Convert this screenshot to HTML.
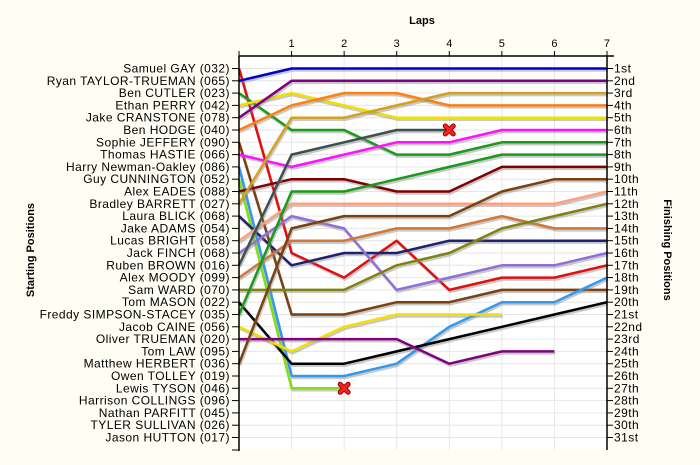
<!DOCTYPE html>
<html><head><meta charset="utf-8"><style>
html,body{margin:0;padding:0;background:#fffef4;}
svg{display:block;font-family:"Liberation Sans",sans-serif;}
</style></head><body>
<svg id="chart" width="700" height="465" viewBox="0 0 700 465" xmlns="http://www.w3.org/2000/svg">
<rect x="0" y="0" width="700" height="465" fill="#fffef4"/>
<rect x="239" y="56" width="368" height="394" fill="#ffffff"/>
<g id="grid"></g>
<g id="series"></g>
<g id="axes"></g>
<text x="422" y="24" text-anchor="middle" font-size="11" font-weight="bold">Laps</text>
<text transform="translate(34,250) rotate(-90)" text-anchor="middle" font-size="11" font-weight="bold">Starting Positions</text>
<text transform="translate(664,250) rotate(90)" text-anchor="middle" font-size="11" font-weight="bold">Finishing Positions</text>
</svg>
<script>
const drivers = ["Samuel GAY (032)","Ryan TAYLOR-TRUEMAN (065)","Ben CUTLER (023)","Ethan PERRY (042)","Jake CRANSTONE (078)","Ben HODGE (040)","Sophie JEFFERY (090)","Thomas HASTIE (066)","Harry Newman-Oakley (086)","Guy CUNNINGTON (052)","Alex EADES (088)","Bradley BARRETT (027)","Laura BLICK (068)","Jake ADAMS (054)","Lucas BRIGHT (058)","Jack FINCH (068)","Ruben BROWN (016)","Alex MOODY (099)","Sam WARD (070)","Tom MASON (022)","Freddy SIMPSON-STACEY (035)","Jacob CAINE (056)","Oliver TRUEMAN (020)","Tom LAW (095)","Matthew HERBERT (036)","Owen TOLLEY (019)","Lewis TYSON (046)","Harrison COLLINGS (096)","Nathan PARFITT (045)","TYLER SULLIVAN (026)","Jason HUTTON (017)"];
const finishLabels = ["1st","2nd","3rd","4th","5th","6th","7th","8th","9th","10th","11th","12th","13th","14th","15th","16th","17th","18th","19th","20th","21st","22nd","23rd","24th","25th","26th","27th","28th","29th","30th","31st"];
const lapLabels = [1,2,3,4,5,6,7];
const posRed = [1,16,18,15,19,18,18,17];
const posBlue = [2,1,1,1,1,1,1,1];
const posGreen = [3,6,6,8,8,7,7,7];
const posYellow = [4,3,4,5,5,5,5,5];
const posPurple = [5,2,2,2,2,2,2,2];
const posOrange = [6,4,3,3,4,4,4,4];
const posBrown2 = [7,21,21,20,20,19,19,19];
const posMagenta = [8,9,8,7,7,6,6,6];
const posLightBlue = [9,26,26,25,22,20,20,18];
const posLime = [10,27,27];
const posDarkRed = [11,10,10,11,11,9,9,9];
const posTan = [12,5,5,4,3,3,3,3];
const posNavy = [13,17,16,16,15,15,15,15];
const posSalmon = [15,12,12,12,12,12,12,11];
const posLavender = [16,13,14,19,18,17,17,16];
const posSlate = [17,8,7,6,6];
const posPeru = [18,15,15,14,14,13,14,14];
const posOlive = [19,19,19,17,16,14,13,12];
const posBlack = [20,25,25,24,23,22,21,20];
const posGreen2 = [21,11,11,10,9,8,8,8];
const posYellow2 = [22,24,22,21,21,21];
const posViolet = [23,23,23,23,25,24,24];
const posBrown3 = [25,14,13,13,13,11,10,10];

const seriesList = [
 {n:"samuel-gay-line",c:"#e01010",d:posRed},
 {n:"ryan-taylor-trueman-line",c:"#0000d0",d:posBlue},
 {n:"ben-cutler-line",c:"#1a9a1a",d:posGreen},
 {n:"ethan-perry-line",c:"#f2e000",d:posYellow},
 {n:"jake-cranstone-line",c:"#800080",d:posPurple},
 {n:"ben-hodge-line",c:"#ff8010",d:posOrange},
 {n:"sophie-jeffery-line",c:"#7a4010",d:posBrown2},
 {n:"thomas-hastie-line",c:"#ff10ff",d:posMagenta},
 {n:"harry-newman-oakley-line",c:"#3399ee",d:posLightBlue},
 {n:"guy-cunnington-line",c:"#80e010",d:posLime,x:true},
 {n:"alex-eades-line",c:"#800000",d:posDarkRed},
 {n:"bradley-barrett-line",c:"#d4a020",d:posTan},
 {n:"laura-blick-line",c:"#202070",d:posNavy},
 {n:"lucas-bright-line",c:"#ffa080",d:posSalmon},
 {n:"jack-finch-line",c:"#9070d8",d:posLavender},
 {n:"ruben-brown-line",c:"#3c5050",d:posSlate,x:true},
 {n:"alex-moody-line",c:"#d07838",d:posPeru},
 {n:"sam-ward-line",c:"#808010",d:posOlive},
 {n:"tom-mason-line",c:"#000000",d:posBlack},
 {n:"freddy-simpson-stacey-line",c:"#1a9a1a",d:posGreen2},
 {n:"jacob-caine-line",c:"#f2e000",d:posYellow2},
 {n:"oliver-trueman-line",c:"#800080",d:posViolet},
 {n:"matthew-herbert-line",c:"#7a4010",d:posBrown3}
];

const NS="http://www.w3.org/2000/svg";
const X0=239, LAPW=52.57, Y0=68.5, ROWH=12.3, TOP=56, BOT=450, RIGHT=607;
function xs(l){return X0+l*LAPW;}
function ys(p){return Y0+(p-1)*ROWH;}
function mk(tag,attrs,parent){const e=document.createElementNS(NS,tag);for(const k in attrs)e.setAttribute(k,attrs[k]);parent.appendChild(e);return e;}

const grid=document.getElementById('grid');
for(let i=0;i<drivers.length;i++){
  const g=mk('line',{x1:X0,x2:RIGHT,y1:ys(i+1),y2:ys(i+1),stroke:'#e6e6e6','stroke-width':1},grid);
  
  
}
for(let i=0;i<lapLabels.length;i++){
  const g=mk('line',{x1:xs(lapLabels[i]),x2:xs(lapLabels[i]),y1:TOP,y2:BOT,stroke:'#e6e6e6','stroke-width':1},grid);
  
  
}

const sg=document.getElementById('series');
seriesList.forEach(s=>{
  const pts=s.d.map((p,i)=>xs(i).toFixed(1)+','+ys(p).toFixed(1)).join(' ');
  const sh=mk('polyline',{points:pts,fill:'none',stroke:'#888','stroke-opacity':0.45,'stroke-width':2.5,transform:'translate(1,2)'},sg);
  
  
  const pl=mk('polyline',{points:pts,fill:'none',stroke:s.c,'stroke-width':2.5,'stroke-linejoin':'round'},sg);
  
  
  if(s.x){
    const li=s.d.length-1, cx=xs(li), cy=ys(s.d[li]);
    const gx=mk('g',{},sg);
    
    
    const d='M'+(cx-4)+','+(cy-4)+'L'+(cx+4)+','+(cy+4)+'M'+(cx+4)+','+(cy-4)+'L'+(cx-4)+','+(cy+4);
    mk('path',{d:d,stroke:'#900','stroke-width':5,'stroke-linecap':'round'},gx);
    mk('path',{d:d,stroke:'#ff2020','stroke-width':3,'stroke-linecap':'round'},gx);
  }
});

const ax=document.getElementById('axes');
let e;
e=mk('line',{x1:X0,x2:X0,y1:TOP,y2:BOT+1,stroke:'#000','stroke-width':1.5},ax);


e=mk('line',{x1:RIGHT,x2:RIGHT,y1:TOP,y2:BOT,stroke:'#000','stroke-width':1.5},ax);


e=mk('line',{x1:X0,x2:614,y1:TOP,y2:TOP,stroke:'#000','stroke-width':1.5},ax);


e=mk('line',{x1:X0-7,x2:X0,y1:BOT,y2:BOT,stroke:'#000','stroke-width':1},ax);


e=mk('line',{x1:X0,x2:X0,y1:TOP-5,y2:TOP,stroke:'#000','stroke-width':1},ax);


for(let i=0;i<lapLabels.length;i++){
  const x=xs(lapLabels[i]);
  e=mk('line',{x1:x,x2:x,y1:TOP-5,y2:TOP,stroke:'#000','stroke-width':1},ax);
  
  
  e=mk('text',{x:x,y:TOP-9,'text-anchor':'middle','font-size':11},ax);
  e.textContent=lapLabels[i];
  
  
}
for(let i=0;i<drivers.length;i++){
  const y=ys(i+1);
  e=mk('line',{x1:X0-7,x2:X0,y1:y,y2:y,stroke:'#000','stroke-width':1},ax);
  
  
  e=mk('text',{x:X0-9,y:y+4,'text-anchor':'end','font-size':12,'letter-spacing':0.45},ax);
  e.textContent=drivers[i];
  
  
  e=mk('line',{x1:RIGHT,x2:RIGHT+6,y1:y,y2:y,stroke:'#000','stroke-width':1},ax);
  
  
  e=mk('text',{x:RIGHT+7,y:y+4,'text-anchor':'start','font-size':12,'letter-spacing':0.45},ax);
  e.textContent=finishLabels[i];
  
  
}
</script>
</body></html>
